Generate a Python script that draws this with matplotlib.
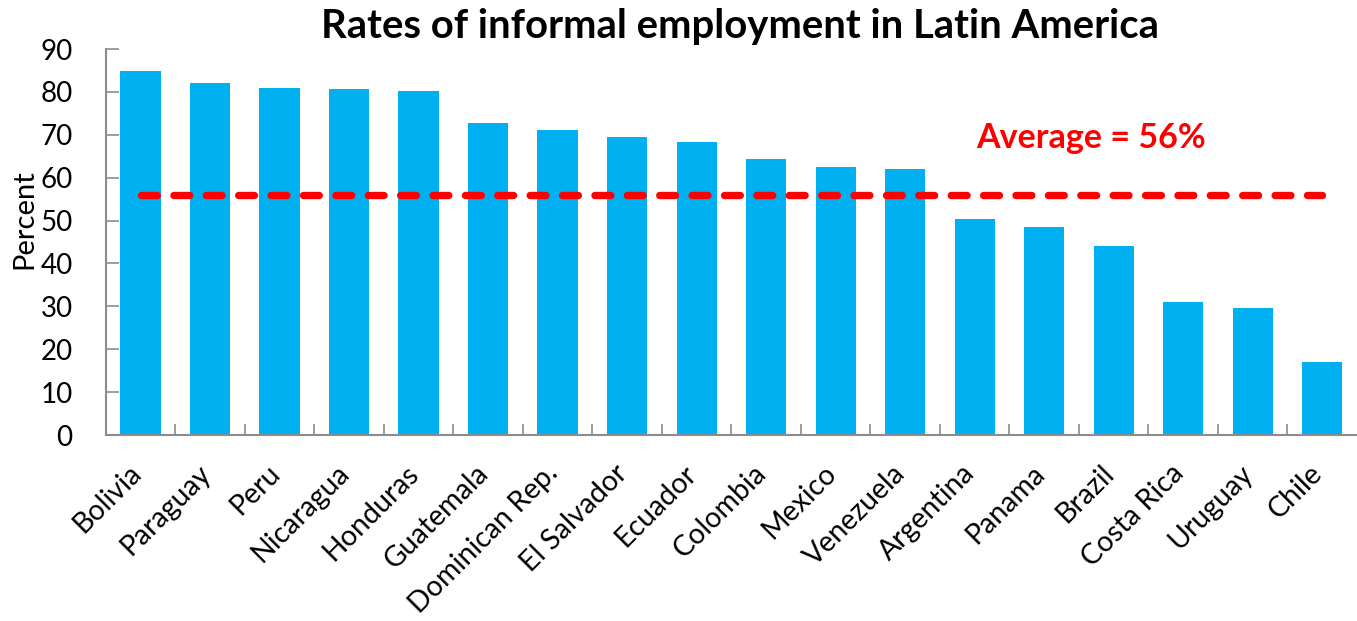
import matplotlib
matplotlib.use("Agg")
import matplotlib.pyplot as plt
import matplotlib.transforms as mtransforms

countries = ["Bolivia", "Paraguay", "Peru", "Nicaragua", "Honduras", "Guatemala",
             "Dominican Rep.", "El Salvador", "Ecuador", "Colombia", "Mexico",
             "Venezuela", "Argentina", "Panama", "Brazil", "Costa Rica",
             "Uruguay", "Chile"]
informal_rate = [84.9, 82.0, 80.9, 80.7, 80.2, 72.8, 71.2, 69.4, 68.3, 64.4,
                 62.5, 62.1, 50.4, 48.5, 44.1, 31.1, 29.7, 17.1]
average_rate = 56
y_ticks = [0, 10, 20, 30, 40, 50, 60, 70, 80, 90]

plt.rcParams["font.family"] = ["Lato", "DejaVu Sans"]

fig = plt.figure(figsize=(13.57, 6.21), dpi=100)
ax = fig.add_axes([0.078, 0.2995, 0.922, 0.6215])

x = range(len(countries))
ax.bar(x, informal_rate, width=0.58, color="#00B0F0", zorder=2)

# dashed average line spanning the first to the last bar
ax.plot([0, len(countries) - 1], [average_rate, average_rate], color="#FF0000",
        lw=5.3, ls=(0, (2.15, 2.25)), dash_capstyle="round", zorder=3)
ax.text(13.67, 69.3, f"Average = {average_rate}%", color="#FF0000",
        fontsize=24.5, fontweight="bold", ha="center", va="center")

ax.set_xlim(-0.5, len(countries) - 0.5)
ax.set_ylim(0, 90)
ax.set_yticks(y_ticks)
ax.tick_params(axis="y", direction="in", length=9, width=1.2, color="#8c8c8c",
               labelsize=20, pad=24)
for lbl in ax.get_yticklabels():
    lbl.set_horizontalalignment("right")

# category ticks sit between bars
ax.set_xticks([i - 0.5 for i in range(1, len(countries))], minor=True)
ax.set_xticks(list(x))
ax.set_xticklabels(countries, rotation=45, ha="right", rotation_mode="anchor",
                   fontsize=20.5)
ax.tick_params(axis="x", which="major", length=0, pad=18)
ax.tick_params(axis="x", which="minor", direction="in", length=8, width=1.2,
               color="#8c8c8c")
shift = mtransforms.ScaledTranslation(-0.13, 0, fig.dpi_scale_trans)
for lbl in ax.get_xticklabels():
    lbl.set_transform(lbl.get_transform() + shift)

for side in ("top", "right"):
    ax.spines[side].set_visible(False)
for side in ("left", "bottom"):
    ax.spines[side].set_color("#8c8c8c")
    ax.spines[side].set_linewidth(1.5)

ax.set_ylabel("Percent", fontsize=21, labelpad=2)
ax.yaxis.set_label_coords(-0.055, 0.56)
fig.text(0.545, 0.958, "Rates of informal employment in Latin America",
         fontsize=28.8, fontweight="bold", ha="center", va="center")

fig.savefig("out.png", dpi=100)
